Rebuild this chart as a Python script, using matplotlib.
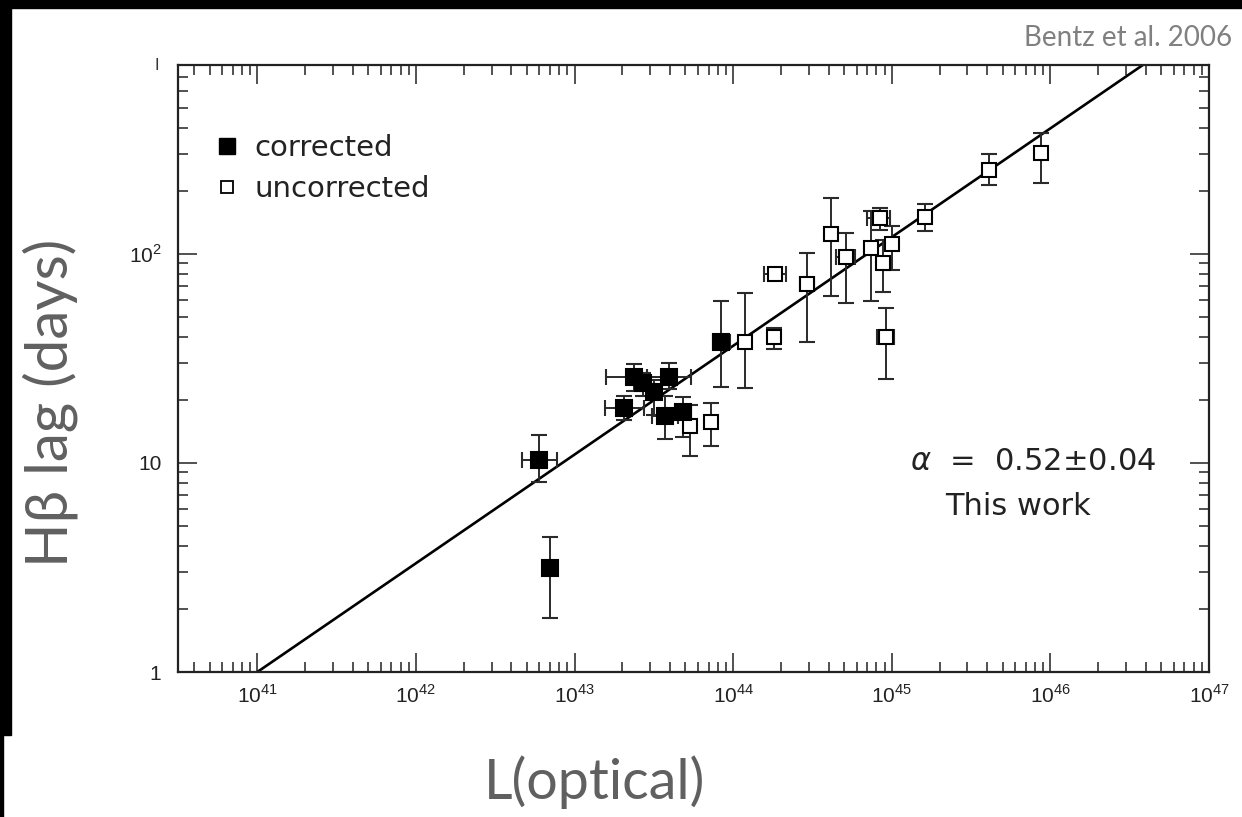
import numpy as np
import matplotlib
matplotlib.use("Agg")
import matplotlib.pyplot as plt
from matplotlib.lines import Line2D
from matplotlib.patches import Rectangle
from matplotlib.ticker import LogLocator, NullFormatter

plt.rcParams['font.family'] = ['Liberation Sans', 'DejaVu Sans']
plt.rcParams['mathtext.fontset'] = 'custom'
plt.rcParams['mathtext.rm'] = 'Liberation Sans'
plt.rcParams['mathtext.it'] = 'DejaVu Sans:italic'

# corrected (filled) points: luminosity, lag, and error-bar ends
lum_c    = [5.94e42, 6.97e42, 2.06e43, 2.38e43, 2.72e43, 3.18e43, 3.96e43, 3.73e43, 4.85e43, 8.42e43]
lum_c_lo = [4.64e42, 6.97e42, 1.55e43, 1.57e43, 2.72e43, 3.18e43, 2.88e43, 3.10e43, 4.30e43, 7.50e43]
lum_c_hi = [7.71e42, 6.97e42, 2.74e43, 3.60e43, 2.72e43, 3.18e43, 5.45e43, 4.50e43, 5.45e43, 9.50e43]
lag_c    = [10.3, 3.14, 18.3, 25.8, 24.1, 21.9, 25.8, 16.8, 17.5, 37.9]
lag_c_lo = [8.1, 1.81, 16.0, 22.0, 21.0, 17.0, 22.5, 13.0, 13.3, 23.1]
lag_c_hi = [13.6, 4.43, 21.0, 29.8, 27.0, 25.0, 29.9, 21.0, 20.7, 59.6]

# uncorrected (open) points
lum_u    = [5.37e43, 7.28e43, 1.19e44, 1.81e44, 1.84e44, 2.92e44, 4.13e44, 5.14e44,
            7.38e44, 8.41e44, 1.01e45, 8.77e44, 9.16e44, 1.61e45, 4.13e45, 8.77e45]
lum_u_lo = [5.37e43, 7.28e43, 1.19e44, 1.81e44, 1.57e44, 2.62e44, 4.13e44, 4.42e44,
            7.38e44, 7.00e44, 9.50e44, 8.77e44, 8.10e44, 1.55e45, 4.13e45, 8.77e45]
lum_u_hi = [5.37e43, 7.28e43, 1.19e44, 1.81e44, 2.15e44, 3.25e44, 4.13e44, 5.90e44,
            7.38e44, 9.80e44, 1.10e45, 8.77e44, 1.04e45, 1.68e45, 4.13e45, 8.77e45]
lag_u    = [15.0, 15.7, 37.9, 40.1, 80.2, 71.8, 124.7, 96.8,
            106.9, 148.7, 111.6, 90.6, 40.1, 150.4, 252.5, 304.0]
lag_u_lo = [10.8, 12.1, 22.9, 35.1, 76.0, 37.9, 63.0, 58.3,
            59.6, 130.0, 84.0, 65.8, 25.2, 129.0, 214.0, 219.0]
lag_u_hi = [19.0, 19.4, 65.0, 44.0, 85.0, 101.0, 185.0, 126.0,
            160.0, 166.0, 136.0, 117.0, 55.2, 173.0, 301.0, 379.0]

slope = 0.52
lum_zero = 1e41
fit_lum = [1e41, 1e47]

fig = plt.figure(figsize=(12.42, 8.17), dpi=100)
fig.patch.set_facecolor('white')

# black frame bits at the edges of the screenshot
fig.add_artist(Rectangle((0, 1 - 8 / 817), 1, 8 / 817, transform=fig.transFigure, color='black'))
fig.add_artist(Rectangle((0, 82 / 817), 11 / 1242, 735 / 817, transform=fig.transFigure, color='black'))
fig.add_artist(Rectangle((0, 0), 3 / 1242, 82 / 817, transform=fig.transFigure, color='black'))

ax = fig.add_axes([178 / 1242, 145 / 817, 1031 / 1242, 607 / 817])

fl = np.array(fit_lum)
ax.plot(fl, (fl / lum_zero) ** slope, color='black', lw=1.9, zorder=2)


def draw(lum, lo, hi, lag, ylo, yhi, face, size):
    lum = np.array(lum)
    lag = np.array(lag)
    xerr = [lum - np.array(lo), np.array(hi) - lum]
    yerr = [lag - np.array(ylo), np.array(yhi) - lag]
    ax.errorbar(lum, lag, xerr=xerr, yerr=yerr, fmt='s', ms=size, mfc=face, mec='black',
                mew=1.5, ecolor='#2a2a2a', elinewidth=1.4, capsize=5.5, capthick=1.5, zorder=3)


draw(lum_u, lum_u_lo, lum_u_hi, lag_u, lag_u_lo, lag_u_hi, 'white', 10)
draw(lum_c, lum_c_lo, lum_c_hi, lag_c, lag_c_lo, lag_c_hi, 'black', 11.5)

ax.set_xscale('log')
ax.set_yscale('log')
ax.set_xlim(10 ** 40.5, 1e47)
ax.set_ylim(1, 800)

exps = [41, 42, 43, 44, 45, 46, 47]
ax.set_xticks([10.0 ** e for e in exps], ['$10^{%d}$' % e for e in exps])
ax.set_yticks([1, 10, 100], ['1', '10', '$10^2$'])
ax.xaxis.set_minor_locator(LogLocator(base=10, subs=np.arange(2, 10), numticks=20))
ax.yaxis.set_minor_locator(LogLocator(base=10, subs=np.arange(2, 10), numticks=20))
ax.xaxis.set_minor_formatter(NullFormatter())
ax.yaxis.set_minor_formatter(NullFormatter())
ax.tick_params(which='both', direction='in', top=True, right=True, width=1.1, color='#222222')
ax.tick_params(which='major', length=14, labelsize=15, labelcolor='#222222')
ax.tick_params(which='minor', length=7)
ax.tick_params(axis='x', pad=9)
ax.tick_params(axis='y', pad=12)
for s in ax.spines.values():
    s.set_linewidth(1.6)
    s.set_color('#222222')

handles = [Line2D([], [], marker='s', ls='none', ms=11.5, mfc='black', mec='black'),
           Line2D([], [], marker='s', ls='none', ms=9, mfc='white', mec='black', mew=1.3)]
ax.legend(handles, ['corrected', 'uncorrected'], loc='upper left', bbox_to_anchor=(0.022, 0.905),
          frameon=False, prop={'family': 'DejaVu Sans', 'size': 21}, handlelength=1.0,
          handletextpad=0.45, labelspacing=0.45, borderaxespad=0, labelcolor='#222222')

ax.text(0.71, 0.346, r'$\alpha$  =  0.52±0.04', transform=ax.transAxes, fontsize=22,
        family='DejaVu Sans', color='#222222', va='center', ha='left')
ax.text(0.815, 0.272, 'This work', transform=ax.transAxes, fontsize=22,
        family='DejaVu Sans', color='#222222', va='center', ha='center')

fig.text(157 / 1242, 1 - 65 / 817, 'I', fontsize=12, color='#333333', ha='center', va='center')
fig.text(1232 / 1242, 1 - 38 / 817, 'Bentz et al. 2006', family=['Lato', 'DejaVu Sans'],
         fontsize=20, color='#808080', ha='right', va='center')
fig.text(50 / 1242, 1 - 403 / 817, 'Hβ lag (days)', family=['Lato', 'DejaVu Sans'],
         fontsize=42, color='#606060', rotation=90, ha='center', va='center')
fig.text(595 / 1242, 1 - 799 / 817, 'L(optical)', family=['Lato', 'DejaVu Sans'],
         fontsize=40, color='#606060', ha='center', va='baseline')

fig.savefig('out.png', dpi=100, facecolor='white')
